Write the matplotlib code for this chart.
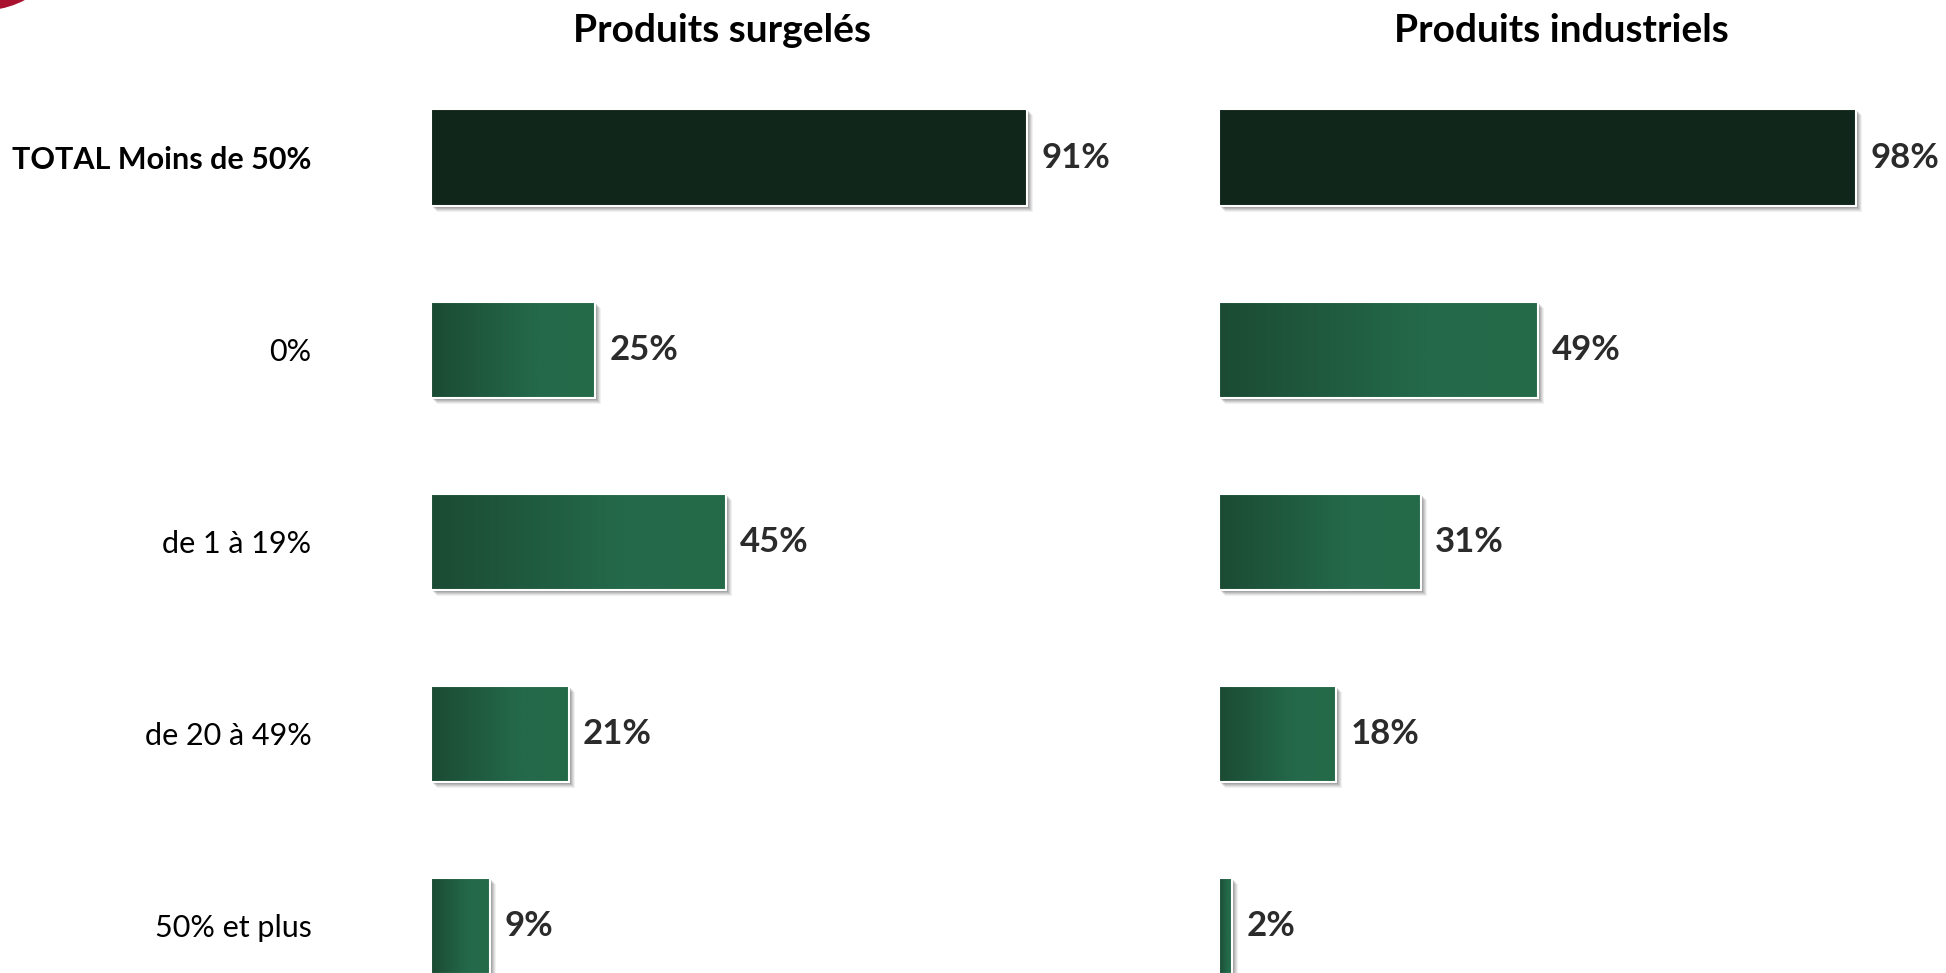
import matplotlib.pyplot as plt
import numpy as np
from matplotlib.colors import LinearSegmentedColormap
from matplotlib.patches import Rectangle, Circle
from matplotlib import transforms

plt.rcParams['font.family'] = ['Lato', 'DejaVu Sans']

categories = ["TOTAL Moins de 50%", "0%", "de 1 à 19%", "de 20 à 49%", "50% et plus"]
surgeles = [91, 25, 45, 21, 9]
industriels = [98, 49, 31, 18, 2]
titles = ["Produits surgelés", "Produits industriels"]

W, H = 1946, 973
fig = plt.figure(figsize=(W / 100, H / 100), dpi=100)

# dark-to-green horizontal gradient used for the detail bars
green = LinearSegmentedColormap.from_list(
    "green", [(0, "#1b4b33"), (0.65, "#24694a"), (1, "#246b48")])
grad = np.linspace(0, 1, 256).reshape(1, -1)

bar_h = 0.5
ylim = (4.245, -0.82)


def draw_panel(ax, values, title, title_x, show_labels):
    ax.set_xlim(0, 100)
    ax.set_ylim(*ylim)
    for i, v in enumerate(values):
        y0 = i - bar_h / 2
        # soft drop shadow, offset down and right
        for k, a in enumerate([0.08, 0.10, 0.13, 0.16, 0.20]):
            d = (5 - k) * 1.0 + 1
            off = transforms.offset_copy(ax.transData, fig=fig, x=d, y=-d, units='dots')
            ax.add_patch(Rectangle((0, y0), v, bar_h, facecolor="#505050",
                                   edgecolor="none", alpha=a, transform=off))
        if i == 0:
            ax.add_patch(Rectangle((0, y0), v, bar_h, facecolor="#10261a",
                                   edgecolor="white", lw=1.5, zorder=3))
        else:
            ax.imshow(grad, cmap=green, aspect='auto', extent=(0, v, y0 + bar_h, y0),
                      zorder=2, interpolation='bilinear')
            ax.add_patch(Rectangle((0, y0), v, bar_h, facecolor="none",
                                   edgecolor="white", lw=1.5, zorder=3))
        ax.text(v + 2.2, i, f"{v}%", va='center', ha='left', fontsize=25,
                fontweight='bold', color="#2b2b2b")
    ax.set_xlim(0, 100)
    ax.set_ylim(*ylim)
    ax.set_xticks([])
    ax.set_yticks(range(len(categories)))
    if show_labels:
        ax.set_yticklabels(categories, fontsize=22)
        ax.get_yticklabels()[0].set_fontweight('bold')
        ax.tick_params(axis='y', length=0, pad=86)
    else:
        ax.set_yticklabels([])
        ax.tick_params(axis='y', length=0)
    for s in ax.spines.values():
        s.set_visible(False)
    ax.patch.set_visible(False)
    fig.text(title_x / W, 1 - 31 / H, title, ha='center', va='center',
             fontsize=28, fontweight='bold', color="black")


ax1 = fig.add_axes([431 / W, 0, 655 / W, 1])
ax2 = fig.add_axes([1219 / W, 0, 650 / W, 1])
draw_panel(ax1, surgeles, titles[0], 722, True)
draw_panel(ax2, industriels, titles[1], 1561, False)

# red corner ornament
fig.patches.append(Circle((-18, 1055), 92.6, transform=None,
                          facecolor="#a8122e", edgecolor="none"))

fig.savefig("out.png", dpi=100)
